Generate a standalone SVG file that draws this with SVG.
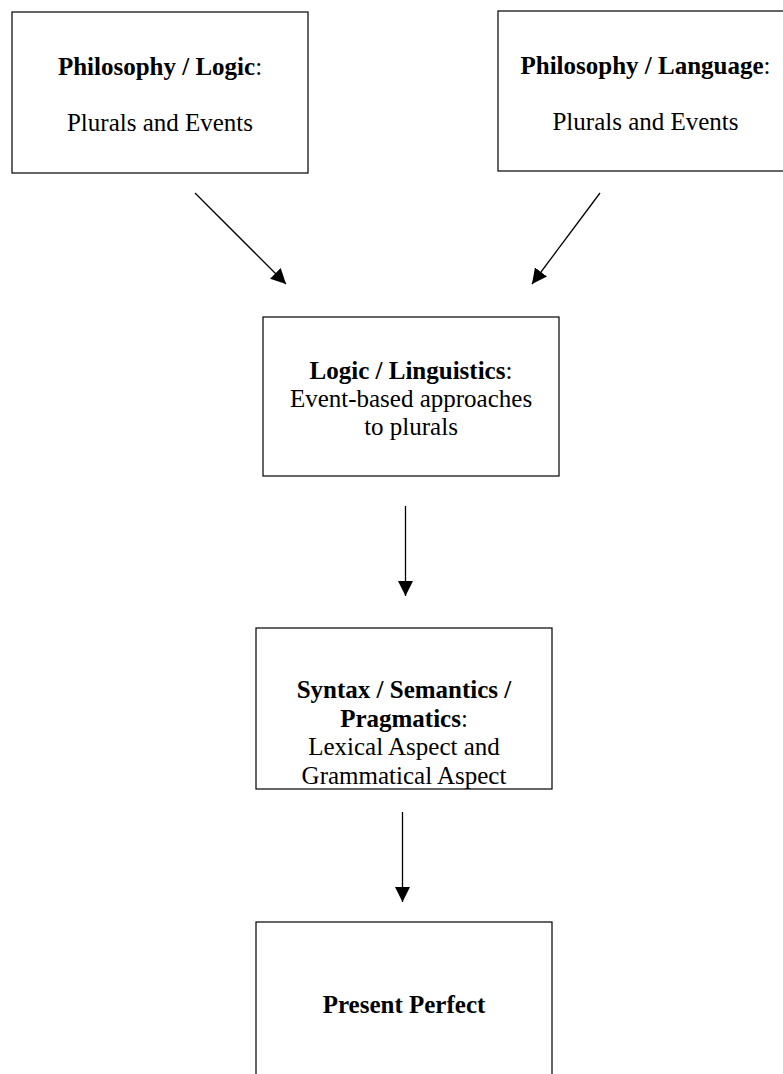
<svg xmlns="http://www.w3.org/2000/svg" width="783" height="1074" viewBox="0 0 783 1074">
  <style>
    .box { fill: #ffffff; stroke: #000000; stroke-width: 1.2; }
    .t { font-family: "Liberation Serif", "Times New Roman", serif; font-size: 25px; fill: #000000; text-anchor: middle; }
    .b { font-weight: bold; }
    .edge { stroke: #000000; stroke-width: 1.3; fill: none; marker-end: url(#arrow); }
  </style>
  <defs>
    <marker id="arrow" markerUnits="userSpaceOnUse" markerWidth="16" markerHeight="16" refX="15" refY="7.5" orient="auto">
      <path d="M0,0 L15,7.5 L0,15 z" fill="#000000"/>
    </marker>
  </defs>
  <rect x="0" y="0" width="783" height="1074" fill="#ffffff"/>

  <g id="node-philosophy-logic">
    <rect class="box" x="12" y="12" width="296" height="161"/>
    <text class="t" x="160" y="75"><tspan class="b">Philosophy / Logic</tspan>:</text>
    <text class="t" x="160" y="131">Plurals and Events</text>
  </g>

  <g id="node-philosophy-language">
    <rect class="box" x="498" y="11" width="296" height="160"/>
    <text class="t" x="645.5" y="74"><tspan class="b">Philosophy / Language</tspan>:</text>
    <text class="t" x="645.5" y="130">Plurals and Events</text>
  </g>

  <g id="node-logic-linguistics">
    <rect class="box" x="263" y="317" width="296" height="159"/>
    <text class="t" x="411" y="379"><tspan class="b">Logic / Linguistics</tspan>:</text>
    <text class="t" x="411" y="407">Event-based approaches</text>
    <text class="t" x="411" y="435">to plurals</text>
  </g>

  <g id="node-syntax-semantics-pragmatics">
    <rect class="box" x="256" y="628" width="296" height="161"/>
    <text class="t b" x="404" y="698">Syntax / Semantics /</text>
    <text class="t" x="404" y="726.5"><tspan class="b">Pragmatics</tspan>:</text>
    <text class="t" x="404" y="755">Lexical Aspect and</text>
    <text class="t" x="404" y="783.5">Grammatical Aspect</text>
  </g>

  <g id="node-present-perfect">
    <rect class="box" x="256" y="922" width="296" height="170"/>
    <text class="t b" x="404" y="1013">Present Perfect</text>
  </g>

  <g id="connectors">
    <line class="edge" x1="195" y1="193" x2="286" y2="284"/>
    <line class="edge" x1="600" y1="193" x2="532" y2="284"/>
    <line class="edge" x1="405.5" y1="506" x2="405.5" y2="596"/>
    <line class="edge" x1="402.5" y1="812" x2="402.5" y2="902"/>
  </g>
</svg>
